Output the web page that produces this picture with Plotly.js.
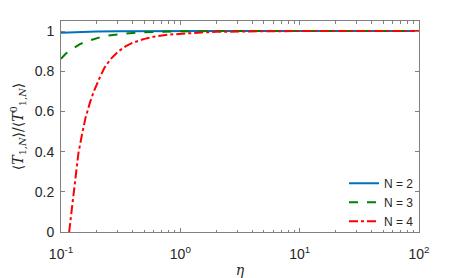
<!DOCTYPE html>
<html>
<head>
<meta charset="utf-8">
<script src="https://cdn.plot.ly/plotly-3.0.1.min.js"></script>
<style>html,body{margin:0;padding:0;background:#fff;}#chart{width:463px;height:278px;}</style>
</head>
<body>
<div id="chart"></div>
<script>
// ---- data ----
var seriesNames = ["N = 2", "N = 3", "N = 4"];

var eta2 = [0.1, 0.12, 0.15, 0.2, 0.3, 0.5, 1, 2, 5, 10, 20, 50, 100];
var ratio2 = [0.992, 0.994, 0.996, 0.998, 0.999, 1.0, 1.0, 1.0, 1.0, 1.0, 1.0, 1.0, 1.0];

var eta3 = [0.1, 0.11, 0.12, 0.13, 0.144, 0.16, 0.187, 0.22, 0.25, 0.3, 0.355, 0.45, 0.6, 0.8, 1, 2, 5, 10, 100];
var ratio3 = [0.862, 0.888, 0.905, 0.92, 0.935, 0.946, 0.96, 0.972, 0.978, 0.984, 0.988, 0.993, 0.996, 0.998, 0.999, 1.0, 1.0, 1.0, 1.0];

var eta4 = [0.117, 0.12, 0.127, 0.133, 0.14, 0.15, 0.16, 0.175, 0.19, 0.21, 0.23, 0.26, 0.3, 0.35, 0.4, 0.5, 0.6, 0.8, 1, 1.5, 2, 3, 5, 10, 100];
var ratio4 = [0, 0.06, 0.193, 0.30, 0.393, 0.485, 0.565, 0.645, 0.705, 0.765, 0.815, 0.86, 0.897, 0.925, 0.942, 0.961, 0.972, 0.982, 0.987, 0.993, 0.996, 0.998, 0.999, 1.0, 1.0];

var xTickVals = [0.1, 1, 10, 100];
var xTickText = ["10<sup>-1</sup>", "10<sup>0</sup>", "10<sup>1</sup>", "10<sup>2</sup>"];
var yTickVals = [0, 0.2, 0.4, 0.6, 0.8, 1];
var yTickText = ["0", "0.2", "0.4", "0.6", "0.8", "1"];

// minor tick positions for the log axis (2..9 in each decade)
var xMinor = [];
for (var d = -1; d < 2; d++) {
  for (var k = 2; k <= 9; k++) xMinor.push(k * Math.pow(10, d));
}

var axisColor = "#808080";
var textFont = {family: "Liberation Sans, Arial, Helvetica, sans-serif", size: 14, color: "#262626"};

var traces = [
  {x: eta2, y: ratio2, name: seriesNames[0], mode: "lines", type: "scatter",
   line: {color: "#0072BD", width: 2, dash: "solid"}},
  {x: eta3, y: ratio3, name: seriesNames[1], mode: "lines", type: "scatter",
   line: {color: "#008000", width: 2, dash: "dash"}},
  {x: eta4, y: ratio4, name: seriesNames[2], mode: "lines", type: "scatter",
   line: {color: "#FF0000", width: 2, dash: "dashdot"}}
];

var layout = {
  width: 463, height: 278,
  margin: {l: 61, r: 44, t: 21, b: 46},
  paper_bgcolor: "#fff", plot_bgcolor: "#fff",
  font: textFont,
  showlegend: true,
  legend: {
    x: 1, xanchor: "right", y: 0.3, yanchor: "top",
    bgcolor: "rgba(255,255,255,0)", borderwidth: 0,
    font: {family: "Liberation Sans, Arial, sans-serif", size: 12, color: "#262626"},
    itemwidth: 30, tracegroupgap: 0
  },
  xaxis: {
    type: "log",
    range: [-1, 2],
    tickmode: "array", tickvals: xTickVals, ticktext: xTickText,
    ticks: "inside", ticklen: 4, tickcolor: axisColor, tickwidth: 1,
    showline: true, linecolor: axisColor, linewidth: 1, mirror: "ticks",
    showgrid: false, zeroline: false,
    tickfont: textFont,
    ticklabelstandoff: 9,
    minor: {tickmode: "array", tickvals: xMinor, ticks: "inside", ticklen: 2.5, tickcolor: axisColor, showgrid: false},
    title: {text: "<i>η</i>", font: {family: "DejaVu Serif, Liberation Serif, serif", size: 14, color: "#262626"}, standoff: 4}
  },
  yaxis: {
    range: [0, 1.05],
    tickmode: "array", tickvals: yTickVals, ticktext: yTickText,
    ticks: "inside", ticklen: 4, tickcolor: axisColor, tickwidth: 1,
    showline: true, linecolor: axisColor, linewidth: 1, mirror: "ticks",
    showgrid: false, zeroline: false,
    tickfont: textFont,
    ticklabelstandoff: 3,
    title: {text: "⟨<i>T</i><sub>1,<i>N</i></sub>⟩/⟨<i>T</i><sup>0</sup><sub>1,<i>N</i></sub>⟩",
            font: {family: "DejaVu Serif, Liberation Serif, serif", size: 14, color: "#262626"}, standoff: 7}
  }
};

Plotly.newPlot("chart", traces, layout, {staticPlot: true, displayModeBar: false});
</script>
</body>
</html>
